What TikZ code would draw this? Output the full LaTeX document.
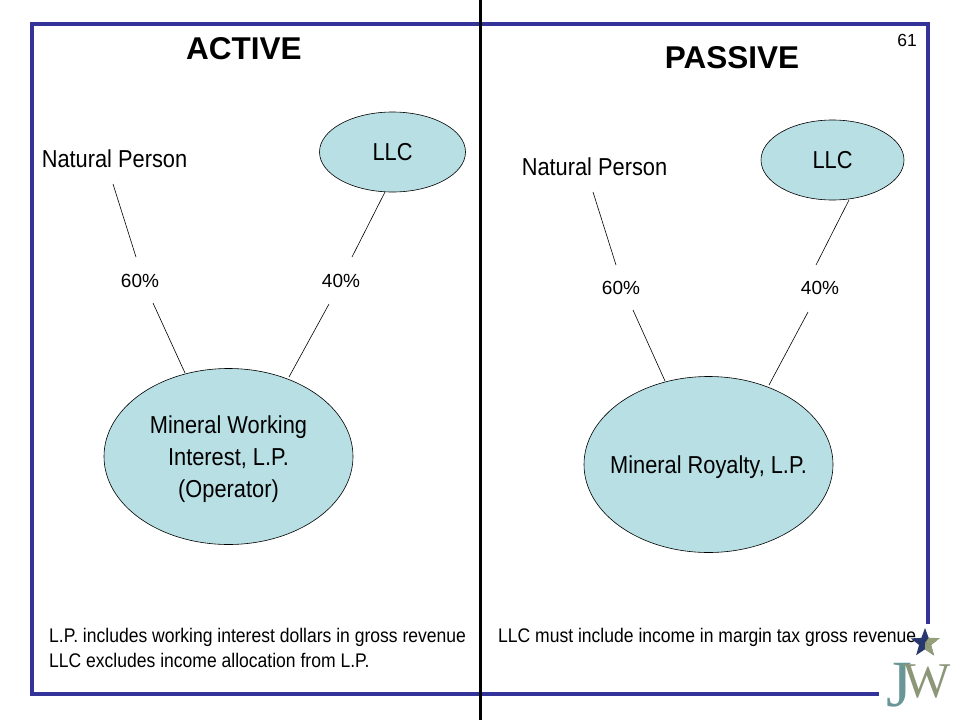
\documentclass[tikz,border=0pt]{standalone}
\usepackage{fontspec}
\setmainfont{Liberation Sans}
\newfontfamily\narrowfont[FakeStretch=0.89]{Liberation Sans}
\newfontfamily\logofont{Liberation Serif}
\usetikzlibrary{shapes.geometric}
\definecolor{frameblue}{RGB}{51,51,153}
\definecolor{bubble}{RGB}{184,223,228}
\definecolor{logoteal}{RGB}{105,150,150}
\definecolor{logoolive}{RGB}{140,150,120}
\definecolor{logonavy}{RGB}{40,55,110}
\definecolor{logosage}{RGB}{150,160,120}
\newcommand\lowr[1]{\raisebox{-2.5pt}[\height][\depth]{#1}}
\tikzset{
 x=1pt,y=-1pt,
 bubblenode/.style={draw=black,line width=0.6pt,fill=bubble,ellipse,inner sep=-30pt,align=center,font=\narrowfont\fontsize{24.5}{32}\selectfont},
 lbl/.style={inner sep=0pt,align=left,font=\narrowfont\fontsize{24.5}{26}\selectfont},
 pct/.style={inner sep=0pt,font=\fontsize{19}{22}\selectfont},
 note/.style={inner sep=0pt,align=left,font=\narrowfont\fontsize{19.7}{25}\selectfont},
 head/.style={inner sep=0pt,font=\bfseries\fontsize{31.5}{36}\selectfont},
 link/.style={draw=black,line width=0.6pt}
}
\begin{document}
\begin{tikzpicture}
\useasboundingbox (0,0) rectangle (960,720);
\fill[white] (0,0) rectangle (960,720);
\draw[frameblue,line width=3.5pt] (928,624) -- (928,24) -- (32,24) -- (32,694) -- (879,694);
\draw[black,line width=3pt] (480.5,0) -- (480.5,720);
\node[head] (act) at (244,49) {ACTIVE};
\node[head] (pas) at (732,58) {PASSIVE};
\node[pct,font=\fontsize{17.5}{20}\selectfont] (pg) at (907,40) {61};
\node[bubblenode,minimum width=146pt,minimum height=80pt] (llca) at (392.5,152) {LLC};
\node[bubblenode,minimum width=143pt,minimum height=80pt] (llcp) at (832.5,160) {LLC};
\node[bubblenode,minimum width=249pt,minimum height=176pt] (mw) at (228.5,456.5) {\lowr{Mineral Working}\\\lowr{Interest, L.P.}\\\lowr{(Operator)}};
\node[bubblenode,minimum width=249pt,minimum height=176pt] (mr) at (708.5,464.5) {\lowr{Mineral Royalty, L.P.}};
\node[lbl] (npa) at (114.5,159) {Natural Person};
\node[lbl] (npp) at (594.5,167) {Natural Person};
\node[pct] (a60) at (140,281) {60\%};
\node[pct] (a40) at (341,281) {40\%};
\node[pct] (p60) at (621,288) {60\%};
\node[pct] (p40) at (820,288) {40\%};
\coordinate (c1) at (113,184); \coordinate (c2) at (136,257);
\coordinate (c3) at (153,303); \coordinate (c4) at (185,373);
\coordinate (c5) at (385,192); \coordinate (c6) at (352,257);
\coordinate (c7) at (329,304); \coordinate (c8) at (289,377);
\coordinate (d1) at (593,192); \coordinate (d2) at (616,265);
\coordinate (d3) at (633,310); \coordinate (d4) at (665,381);
\coordinate (d5) at (849,200); \coordinate (d6) at (816,265);
\coordinate (d7) at (808,312); \coordinate (d8) at (769,385);
\draw[link] (c1)--(c2); \draw[link] (c3)--(c4); \draw[link] (c5)--(c6); \draw[link] (c7)--(c8);
\draw[link] (d1)--(d2); \draw[link] (d3)--(d4); \draw[link] (d5)--(d6); \draw[link] (d7)--(d8);
\node[note,anchor=north west] (n1) at (49,628) {L.P. includes working interest dollars in gross revenue\\LLC excludes income allocation from L.P.};
\node[note,anchor=north west] (n2) at (498,628) {LLC must include income in margin tax gross revenue};
% logo
\node[star,star points=5,star point ratio=2.4,minimum size=30pt,inner sep=0pt,fill=logonavy] (st) at (925,643) {};
\fill[logosage] (st.center) -- (st.outer point 4) -- (st.inner point 4) -- cycle;
\fill[logosage] (st.center) -- (st.inner point 3) -- (st.outer point 4) -- cycle;
\fill[logosage] (st.center) -- (st.inner point 4) -- (st.outer point 5) -- (st.inner point 5) -- cycle;
\node[inner sep=0pt,anchor=base west,font=\logofont] (lg) at (886,706) {\textcolor{logoteal}{\fontsize{66}{66}\selectfont J}\kern-8pt\raisebox{9pt}{\textcolor{logoolive}{\fontsize{50}{50}\selectfont W}}};
\end{tikzpicture}
\end{document}
